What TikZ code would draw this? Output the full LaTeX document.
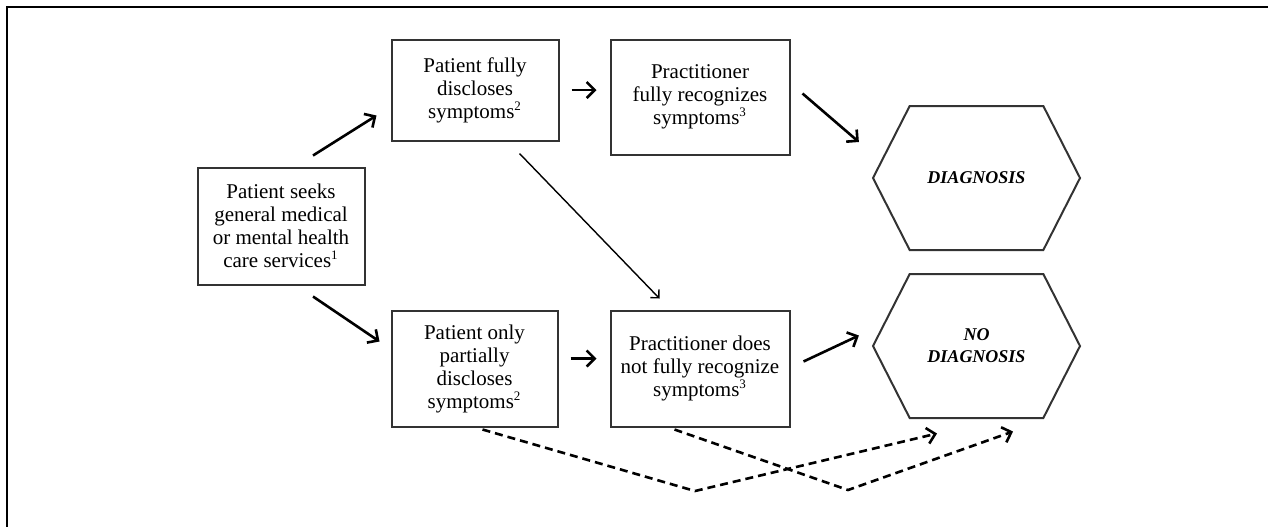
\documentclass[tikz,border=0pt]{standalone}
\usepackage{fontspec}
\setmainfont{Liberation Serif}
\usepackage{tikz}
\usetikzlibrary{arrows.meta, shapes.symbols, positioning, calc}
\definecolor{boxline}{HTML}{333333}
\newcommand{\fnmark}[1]{\textsuperscript{\fontsize{6.5}{7}\selectfont #1}}
\tikzset{
  stepbox/.style={
    rectangle, draw=boxline, line width=1pt, align=center, inner sep=0pt,
    font=\fontsize{10.5}{11.5}\selectfont
  },
  outcome/.style={
    signal, signal to=east and west, signal pointer angle=126, draw=boxline,
    line width=1pt, minimum width=103.5pt, minimum height=72pt, inner sep=0pt,
    align=center, font=\fontsize{9}{11}\selectfont\bfseries\itshape
  },
  edge/.style={-{Straight Barb[length=4pt,width=8pt]}, line width=1.3pt},
  thinedge/.style={-{Straight Barb[length=3pt,width=6pt]}, line width=0.7pt},
  dashedge/.style={edge, dash pattern=on 4pt off 2.5pt}
}

\begin{document}
\begin{tikzpicture}[x=0.5pt, y=-0.5pt]
    \useasboundingbox (0,0) rectangle (1268,527);
    \draw[line width=1.1pt] (1268,7) -- (7,7) -- (7,527);
    \node[stepbox, minimum width=83.5pt, minimum height=58.5pt] (seek) at (281,226)
      {Patient seeks\\general medical\\or mental health\\care services\fnmark{1}};
    \node[stepbox, minimum width=83.5pt, minimum height=50.5pt, above right=12.5pt and 12.5pt of seek] (fullDis)
      {Patient fully\\discloses\\symptoms\fnmark{2}};
    \node[stepbox, minimum width=83pt, minimum height=58pt, below right=12pt and 12.5pt of seek] (partDis)
      {Patient only\\partially\\discloses\\symptoms\fnmark{2}};
    \node[stepbox, minimum width=89.5pt, minimum height=57.5pt, right=25pt of fullDis.north east, anchor=north west] (fullRec)
      {Practitioner\\fully recognizes\\symptoms\fnmark{3}};
    \node[stepbox, minimum width=89.5pt, minimum height=58pt, right=25.5pt of partDis] (notRec)
      {Practitioner does\\not fully recognize\\symptoms\fnmark{3}};
    \node[outcome] (diag) at (976.5,178) {DIAGNOSIS};
    \node[outcome, below=11pt of diag] (noDiag) {NO\\DIAGNOSIS};
    \coordinate (vA) at (695,491);
    \coordinate (vB) at (848,490);
    \draw[edge] ([xshift=16pt,yshift=5.5pt]seek.north) -- ([xshift=-7pt,yshift=-12.75pt]fullDis.west);
    \draw[edge] ([xshift=16pt,yshift=-5.5pt]seek.south) -- ([xshift=-5.5pt,yshift=13.5pt]partDis.west);
    \draw[edge, shorten <=6pt, shorten >=6.5pt] (fullDis.east) -- (fullDis.east -| fullRec.west);
    \draw[edge, shorten <=6pt, shorten >=6.5pt] ([yshift=5pt]partDis.east) -- ([yshift=5pt]partDis.east -| notRec.west);
    \draw[edge] ([xshift=6pt,yshift=1.75pt]fullRec.east) -- ([xshift=-6.5pt,yshift=18pt]diag.west);
    \draw[edge] ([xshift=6.5pt,yshift=3.5pt]notRec.east) -- ([xshift=-6.5pt,yshift=5.25pt]noDiag.west);
    \draw[thinedge] ([xshift=22.25pt,yshift=-6pt]fullDis.south) -- ([xshift=-20.25pt,yshift=5.5pt]notRec.north);
    \draw[dashedge] ([xshift=4pt,yshift=-1pt]partDis.south) -- (vA) -- ([xshift=-19.75pt,yshift=-7.25pt]noDiag.south);
    \draw[dashedge] ([xshift=-12.75pt,yshift=-1pt]notRec.south) -- (vB) -- ([xshift=18.25pt,yshift=-6.25pt]noDiag.south);
\end{tikzpicture}
\end{document}
